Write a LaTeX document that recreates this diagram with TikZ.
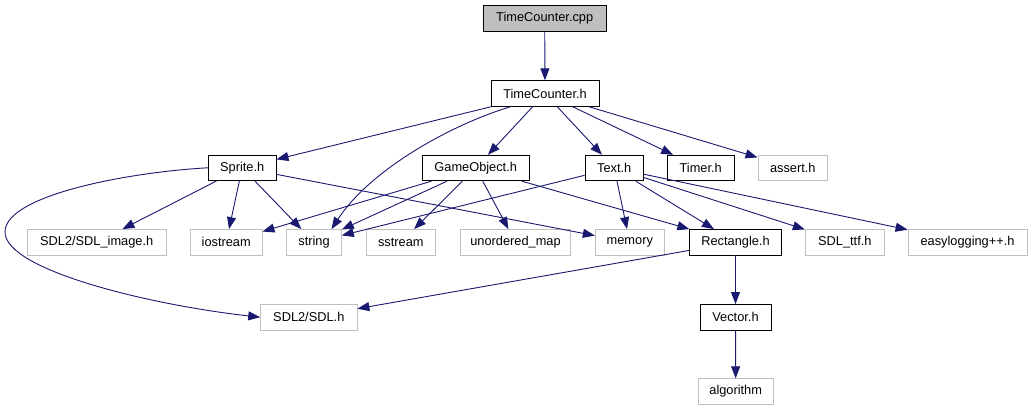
\documentclass[tikz,border=0pt]{standalone}
\usepackage{fontspec}
\setmainfont{Liberation Sans}
\usetikzlibrary{arrows.meta}
\definecolor{edgec}{HTML}{191970}
\definecolor{grey75}{HTML}{BFBFBF}
\begin{document}
\begin{tikzpicture}[x=1pt,y=-1pt,
  box/.style={draw=black, line width=0.9pt, minimum height=25.5pt, inner sep=0pt, font=\fontsize{12.8}{15}\selectfont},
  ext/.style={box, draw=grey75},
  root/.style={box, fill=grey75},
  edge/.style={draw=edgec, line width=0.9pt, -{Triangle[length=12pt,width=9pt]}}]
\useasboundingbox (0,0) rectangle (1032,411);
\node[root, minimum width=122.7pt] (cpp) at (544.7,18.5) {TimeCounter.cpp};
\node[box, minimum width=108pt] (tch) at (545,93.5) {TimeCounter.h};
\node[box, minimum width=67.7pt] (spr) at (242.2,167.8) {Sprite.h};
\node[box, minimum width=106.7pt] (go) at (475.7,168) {GameObject.h};
\node[box, minimum width=58.3pt] (txt) at (614.2,168) {Text.h};
\node[box, minimum width=67.3pt] (tmr) at (700.7,168) {Timer.h};
\node[ext, minimum width=69.7pt] (ast) at (792.8,168) {assert.h};
\node[ext, minimum width=138.7pt] (img) at (96.7,242.3) {SDL2/SDL\_image.h};
\node[ext, minimum width=71.7pt] (ios) at (226.2,242.3) {iostream};
\node[ext, minimum width=54.7pt] (str) at (314,242.3) {string};
\node[ext, minimum width=69pt] (sst) at (400.8,242.3) {sstream};
\node[ext, minimum width=110.4pt] (umap) at (515.5,242.3) {unordered\_map};
\node[ext, minimum width=69pt] (mem) at (629.8,242.3) {memory};
\node[box, minimum width=92.3pt] (rect) at (735.5,242.3) {Rectangle.h};
\node[ext, minimum width=79pt] (ttf) at (844.8,242.3) {SDL\_ttf.h};
\node[ext, minimum width=119pt] (elog) at (967.5,242.3) {easylogging++.h};
\node[ext, minimum width=96.3pt] (sdl) at (308.8,317.2) {SDL2/SDL.h};
\node[box, minimum width=71pt] (vec) at (735.5,317.2) {Vector.h};
\node[ext, minimum width=75.3pt] (alg) at (735.7,391.5) {algorithm};
\coordinate (bend) at (5,232);

\draw[edge] (cpp) -- (tch);
\draw[edge] (tch) -- (spr);
\draw[edge] (tch.201) .. controls (450,125) and (370,170) .. (str.37);
\draw[edge] (tch) -- (go);
\draw[edge] (tch) -- (txt);
\draw[edge] (tch) -- (tmr);
\draw[edge] (tch) -- (ast);
\draw[edge] (spr.west) .. controls (130,172) and (5,195) .. (bend) .. controls (5,270) and (150,305) .. (sdl.west);
\draw[edge] (spr) -- (img);
\draw[edge] (spr) -- (ios);
\draw[edge] (spr) -- (str);
\draw[edge] (spr) -- (mem);
\draw[edge] (go) -- (ios);
\draw[edge] (go) -- (str);
\draw[edge] (go) -- (sst);
\draw[edge] (go) -- (umap);
\draw[edge] (go) -- (rect);
\draw[edge] (txt) -- (str);
\draw[edge] (txt) -- (mem);
\draw[edge] (txt) -- (rect);
\draw[edge] (txt) -- (ttf);
\draw[edge] (txt) -- (elog);
\draw[edge] (rect) -- (sdl);
\draw[edge] (rect) -- (vec);
\draw[edge] (vec) -- (alg);
\end{tikzpicture}
\end{document}
